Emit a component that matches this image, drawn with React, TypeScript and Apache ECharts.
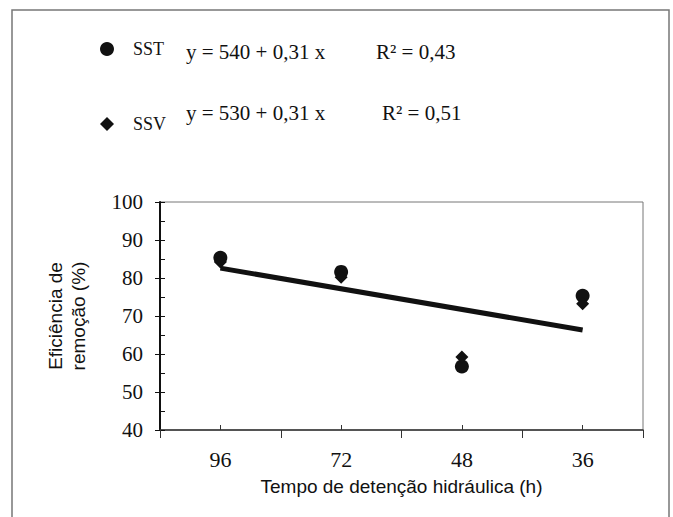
import React, { useEffect, useRef } from "react";
import * as echarts from "echarts";

const categories = ["96", "72", "48", "36"];
const sstValues = [85.3, 81.6, 56.7, 75.3];
const ssvValues = [84.2, 80.2, 59.2, 73.2];
const trendValues: (number | string)[] = [82.6, "-", "-", 66.3];
const equations = ["y = 540 + 0,31 x", "y = 530 + 0,31 x"];
const r2Labels = ["R² = 0,43", "R² = 0,51"];

const SERIF = "'Liberation Serif', 'Times New Roman', serif";
const SANS = "'Liberation Sans', Arial, sans-serif";
const INK = "#111111";

export default function App() {
  const ref = useRef<HTMLDivElement>(null);
  useEffect(() => {
    if (!ref.current) return;
    const chart = echarts.init(ref.current, null, { renderer: "svg" });
    chart.setOption({
      animation: false,
      backgroundColor: "#ffffff",
      grid: {
        left: 160,
        top: 202,
        right: 30,
        bottom: 87,
        show: true,
        borderColor: "#777",
        borderWidth: 1,
        containLabel: false,
      },
      legend: {
        data: ["SST", "SSV"],
        orient: "vertical",
        left: 95,
        top: 35,
        itemGap: 57,
        itemWidth: 14,
        itemHeight: 14,
        textStyle: { fontFamily: SERIF, fontSize: 18, color: INK, padding: [0, 0, 0, 14] },
        selectedMode: false,
      },
      xAxis: [
        {
          type: "category",
          data: categories,
          boundaryGap: true,
          axisLine: { lineStyle: { color: "#333", width: 1.5 } },
          axisTick: { show: true, inside: false, length: 8, lineStyle: { color: "#333" } },
          axisLabel: { fontFamily: SERIF, fontSize: 22, color: INK, margin: 18 },
          name: "Tempo de detenção hidráulica (h)",
          nameLocation: "middle",
          nameGap: 47,
          nameTextStyle: { fontFamily: SANS, fontSize: 19, color: INK },
        },
        {
          type: "category",
          data: categories,
          position: "bottom",
          boundaryGap: true,
          axisLine: { show: false },
          axisTick: { show: true, inside: true, alignWithLabel: true, length: 5, lineStyle: { color: "#333" } },
          axisLabel: { show: false },
        },
      ],
      yAxis: [
        {
          type: "value",
          min: 40,
          max: 100,
          interval: 10,
          splitLine: { show: false },
          axisLine: { show: true, lineStyle: { color: INK, width: 2 } },
          axisTick: { show: true, inside: false, length: 5, lineStyle: { color: INK } },
          axisLabel: { fontFamily: SERIF, fontSize: 21, color: INK, margin: 17 },
          name: "Eficiência de\nremoção (%)",
          nameLocation: "middle",
          nameGap: 70,
          nameRotate: 90,
          nameTextStyle: { fontFamily: SANS, fontSize: 19, color: INK, lineHeight: 23 },
        },
        {
          type: "value",
          min: 40,
          max: 100,
          interval: 5,
          position: "left",
          splitLine: { show: false },
          axisLine: { show: false },
          axisTick: { show: true, inside: true, length: 5, lineStyle: { color: INK } },
          axisLabel: { show: false },
        },
      ],
      series: [
        {
          name: "SST",
          type: "scatter",
          data: sstValues,
          symbol: "circle",
          symbolSize: 14,
          itemStyle: { color: INK, opacity: 1 },
          z: 3,
        },
        {
          name: "SSV",
          type: "scatter",
          data: ssvValues,
          symbol: "diamond",
          symbolSize: 13,
          itemStyle: { color: INK, opacity: 1 },
          z: 3,
        },
        {
          name: "trend",
          type: "line",
          data: trendValues,
          connectNulls: true,
          symbol: "none",
          lineStyle: { color: INK, width: 5 },
          z: 2,
        },
      ],
      graphic: [
        {
          type: "rect",
          shape: { x: 12, y: 10, width: 657, height: 520 },
          style: { fill: "none", stroke: "#777", lineWidth: 1.5 },
          silent: true,
        },
        {
          type: "text",
          x: 186,
          y: 52,
          style: { text: equations[0], font: `21px ${SERIF}`, fill: INK, textVerticalAlign: "middle" },
        },
        {
          type: "text",
          x: 376,
          y: 52,
          style: { text: r2Labels[0], font: `21px ${SERIF}`, fill: INK, textVerticalAlign: "middle" },
        },
        {
          type: "text",
          x: 186,
          y: 113,
          style: { text: equations[1], font: `21px ${SERIF}`, fill: INK, textVerticalAlign: "middle" },
        },
        {
          type: "text",
          x: 382,
          y: 113,
          style: { text: r2Labels[1], font: `21px ${SERIF}`, fill: INK, textVerticalAlign: "middle" },
        },
      ],
    });
    return () => chart.dispose();
  }, []);
  return <div ref={ref} style={{ position: "absolute", left: 0, top: 0, width: 673, height: 517 }} />;
}
